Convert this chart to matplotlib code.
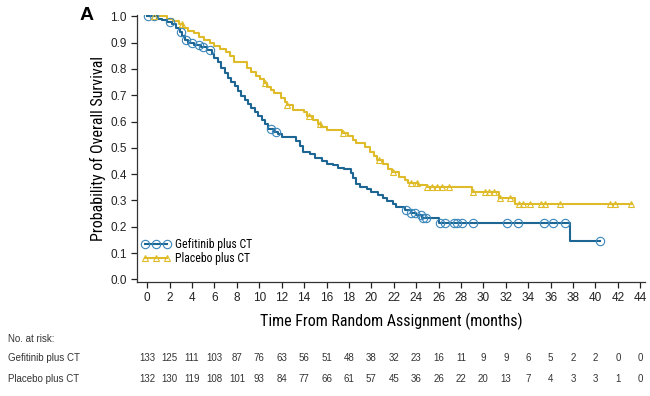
import numpy as np
import matplotlib
matplotlib.use("Agg")
import matplotlib.pyplot as plt
from matplotlib import font_manager

# buscar una fuente estrecha instalada
estrecha = None
for f in font_manager.fontManager.ttflist:
    if f.name in ("Liberation Sans Narrow", "Roboto Condensed", "Open Sans Condensed",
                  "DejaVu Sans Condensed"):
        estrecha = (f.name, "normal")
        break
if estrecha is None:
    for f in font_manager.fontManager.ttflist:
        if f.name == "DejaVu Sans" and f.stretch == "condensed":
            estrecha = ("DejaVu Sans", "condensed")
            break
if estrecha is None:
    estrecha = ("Roboto", "normal")
plt.rcParams['font.family'] = ["Liberation Sans", "DejaVu Sans"]

# Gefitinib plus CT: tiempos de evento y supervivencia tras el escalon
gef_t = [0, 0.9, 1.3, 1.8, 2.2, 2.6, 2.9, 3.1, 3.4, 3.6, 4.2, 4.8, 5.3, 5.8, 6.0,
         6.3, 6.6, 6.9, 7.2, 7.5, 7.8, 8.1, 8.4, 8.7, 9.0, 9.3, 9.6, 9.9, 10.2,
         10.5, 10.8, 11.3, 11.7, 12.0, 13.3, 13.6, 13.9, 14.5, 15.0, 15.6, 16.0,
         16.6, 17.0, 17.6, 18.2, 18.4, 18.6, 19.0, 19.6, 20.0, 20.6, 21.0, 21.4,
         21.9, 22.2, 23.0, 23.5, 24.0, 24.5, 26.0, 37.7, 40.4]
gef_s = [1.0, 0.99, 0.985, 0.977, 0.97, 0.955, 0.94, 0.925, 0.91, 0.898, 0.89,
         0.882, 0.872, 0.857, 0.842, 0.825, 0.805, 0.785, 0.765, 0.752, 0.737,
         0.715, 0.697, 0.682, 0.668, 0.652, 0.638, 0.622, 0.607, 0.59, 0.572,
         0.562, 0.552, 0.54, 0.525, 0.508, 0.485, 0.475, 0.46, 0.45, 0.44,
         0.433, 0.425, 0.418, 0.405, 0.385, 0.362, 0.352, 0.345, 0.333, 0.322,
         0.31, 0.298, 0.285, 0.276, 0.262, 0.252, 0.245, 0.235, 0.213, 0.146,
         0.146]
gef_cens = [0.05, 0.6, 2.0, 3.0, 3.5, 4.0, 4.6, 5.0, 5.6, 11.0, 11.5, 23.1, 23.5,
            23.9, 24.4, 24.6, 24.9, 26.1, 26.6, 27.4, 27.6, 28.1, 29.1, 32.1,
            33.1, 35.4, 36.2, 37.3, 40.4]

# Placebo plus CT
pla_t = [0, 1.8, 2.3, 2.8, 3.2, 3.6, 4.2, 4.6, 5.1, 5.6, 6.0, 6.5, 7.0, 7.4, 7.7,
         8.9, 9.3, 9.7, 10.1, 10.4, 10.7, 11.0, 11.3, 11.9, 12.3, 12.5, 13.0,
         14.0, 14.3, 14.8, 15.2, 15.5, 16.0, 17.4, 17.9, 18.4, 18.6, 19.4, 19.9,
         20.2, 20.5, 21.0, 21.5, 21.8, 22.5, 23.0, 23.3, 24.2, 25.0, 29.0, 31.4,
         32.8, 43.3]
pla_s = [1.0, 0.99, 0.982, 0.97, 0.955, 0.945, 0.935, 0.922, 0.91, 0.898, 0.887,
         0.877, 0.865, 0.85, 0.825, 0.804, 0.79, 0.775, 0.76, 0.745, 0.733,
         0.72, 0.709, 0.69, 0.675, 0.662, 0.645, 0.635, 0.62, 0.607, 0.592,
         0.578, 0.569, 0.555, 0.545, 0.53, 0.518, 0.505, 0.486, 0.47, 0.455,
         0.437, 0.42, 0.41, 0.39, 0.378, 0.367, 0.358, 0.35, 0.331, 0.31,
         0.285, 0.285]
pla_cens = [0.6, 3.1, 10.5, 12.5, 14.4, 15.4, 17.5, 20.7, 21.9, 23.5, 24.1, 25.0,
            25.4, 25.9, 26.3, 26.9, 29.1, 30.1, 30.5, 30.9, 31.5, 32.4, 33.2,
            33.5, 34.2, 35.1, 35.5, 36.8, 41.3, 41.7, 43.2]

meses = list(range(0, 46, 2))
riesgo_gef = [133, 125, 111, 103, 87, 76, 63, 56, 51, 48, 38, 32, 23, 16, 11, 9,
              9, 6, 5, 2, 2, 0, 0]
riesgo_pla = [132, 130, 119, 108, 101, 93, 84, 77, 66, 61, 57, 45, 36, 26, 22, 20,
              13, 7, 4, 3, 3, 1, 0]

azul = "#1d6592"
azul_m = "#3a86bb"
amarillo = "#dfbb2a"


def valor(ts, ss, t):
    i = np.searchsorted(ts, t, side="right") - 1
    return ss[i]


fig = plt.figure(figsize=(6.5, 3.96), dpi=100)
ax = fig.add_axes([0.211, 0.288, 0.781, 0.674])

ax.step(gef_t, gef_s, where="post", color=azul, lw=1.5, zorder=3)
ax.step(pla_t, pla_s, where="post", color=amarillo, lw=1.5, zorder=2)
ax.plot(gef_cens, [valor(gef_t, gef_s, c) for c in gef_cens], "o", ms=6,
        mfc="none", mec=azul_m, mew=0.8, zorder=4)
ax.plot(pla_cens, [valor(pla_t, pla_s, c) for c in pla_cens], "^", ms=5,
        mfc="none", mec=amarillo, mew=0.8, zorder=4)

# leyenda
h1, = ax.plot([], [], color=azul, lw=1.5, marker="o", ms=6, mfc="none",
              mec=azul_m, mew=0.8)
h2, = ax.plot([], [], color=amarillo, lw=1.5, marker="^", ms=5, mfc="none",
              mec=amarillo, mew=0.8)
ax.legend([h1, h2], ["Gefitinib plus CT", "Placebo plus CT"], numpoints=3,
          frameon=False, loc="lower left", bbox_to_anchor=(0.0, 0.045),
          prop={"family": estrecha[0], "stretch": estrecha[1], "size": 8.5},
          handlelength=2.4, handletextpad=0.4, labelspacing=0.12,
          borderaxespad=0)

ax.set_xlim(-0.9, 44.4)
ax.set_ylim(-0.01, 1.005)
ax.set_xticks(meses)
ax.set_yticks(np.arange(0, 1.01, 0.1))
ax.set_yticklabels(["%.1f" % v for v in np.arange(0, 1.01, 0.1)])
ax.spines["top"].set_visible(False)
ax.spines["right"].set_visible(False)
for s in ["left", "bottom"]:
    ax.spines[s].set_color("#333333")
    ax.spines[s].set_linewidth(0.9)
ax.tick_params(labelsize=8.5, colors="#222222", length=4, width=0.9)
ax.set_xlabel("Time From Random Assignment (months)", fontsize=11.5, labelpad=6,
              family=estrecha[0], fontstretch=estrecha[1])
ax.set_ylabel("Probability of Overall Survival", fontsize=11.5, labelpad=3,
              family=estrecha[0], fontstretch=estrecha[1])

fig.text(80 / 650, 1 - 16 / 396, "A", fontsize=14, fontweight="bold",
         ha="left", va="center")

# tabla de pacientes en riesgo
fig.text(8 / 650, 1 - 339 / 396, "No. at risk:", fontsize=7, color="#333333",
         va="center")
fig.text(8 / 650, 1 - 358 / 396, "Gefitinib plus CT", fontsize=7,
         color="#333333", va="center")
fig.text(8 / 650, 1 - 379 / 396, "Placebo plus CT", fontsize=7,
         color="#333333", va="center")
tr = ax.get_xaxis_transform()
y1 = (1 - 358 / 396 - 0.288) / 0.674
y2 = (1 - 379 / 396 - 0.288) / 0.674
for m, a, b in zip(meses, riesgo_gef, riesgo_pla):
    ax.text(m, y1, str(a), transform=tr, fontsize=7, ha="center", va="center",
            color="#333333", clip_on=False)
    ax.text(m, y2, str(b), transform=tr, fontsize=7, ha="center", va="center",
            color="#333333", clip_on=False)

fig.savefig("out.png", dpi=100)
